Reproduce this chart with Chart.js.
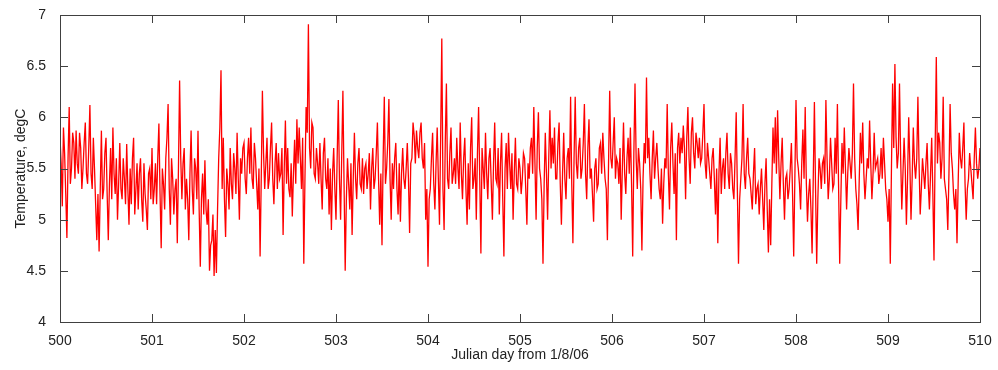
<!DOCTYPE html>
<html>
<head>
<meta charset="utf-8">
<script src="https://cdn.jsdelivr.net/npm/chart.js@4.4.0/dist/chart.umd.min.js"></script>
<style>
  html, body { margin: 0; padding: 0; background: #fff; }
  #caja { width: 998px; height: 370px; }
</style>
</head>
<body>
<div id="caja"><canvas id="grafico" width="998" height="370"></canvas></div>
<script>
// muestreo: dia juliano inicial y paso entre lecturas (dias)
var diaInicio = 500;
var pasoDia = 0.0125;

var temperatura = [
  // 500.000 - 501.225
  5.80, 5.13, 5.65, 4.82, 6.10, 5.50, 5.75, 5.87, 5.45, 5.70,
  5.50, 5.95, 5.35, 6.12, 5.30, 5.50, 4.80, 4.69, 5.87, 5.30,
  5.80, 4.80, 5.70, 5.90, 5.25, 5.00, 5.75, 5.20, 5.40, 5.74,
  4.95, 5.15, 5.80, 5.30, 5.10, 5.60, 4.98, 5.25, 4.90, 5.50,
  5.70, 5.30, 5.15, 5.94, 4.72, 5.35, 5.60, 6.13, 4.95, 5.40,
  // 501.250 - 502.475
  5.30, 4.77, 6.36, 5.20, 5.70, 5.40, 4.80, 5.87, 5.05, 5.50,
  5.87, 4.54, 5.45, 5.58, 4.95, 4.50, 4.80, 4.45, 4.48, 5.60,
  6.46, 5.80, 4.83, 5.35, 5.70, 5.20, 5.50, 5.85, 5.00, 5.45,
  5.75, 5.25, 5.80, 5.90, 5.30, 5.60, 5.10, 4.64, 6.26, 5.30,
  5.80, 5.40, 5.95, 5.15, 5.75, 5.65, 5.45, 4.85, 5.97, 5.70,
  // 502.500 - 503.725
  5.22, 5.03, 5.78, 5.98, 5.90, 5.30, 4.57, 6.10, 6.91, 5.50,
  5.90, 5.40, 5.55, 5.75, 5.10, 5.80, 5.30, 5.05, 4.90, 5.70,
  5.00, 6.17, 5.00, 6.26, 4.50, 5.60, 5.10, 4.85, 5.85, 5.20,
  5.70, 5.30, 5.25, 5.55, 5.45, 5.10, 5.70, 5.40, 5.95, 4.95,
  4.75, 6.20, 5.50, 6.18, 5.00, 5.30, 5.75, 5.05, 4.98, 5.70,
  // 503.750 - 504.975
  5.30, 5.75, 4.87, 5.60, 5.82, 5.87, 5.60, 5.95, 5.50, 5.00,
  4.54, 5.30, 5.85, 5.10, 5.90, 4.95, 6.77, 4.90, 6.33, 5.30,
  5.90, 5.45, 5.35, 5.50, 5.95, 5.20, 5.80, 4.95, 5.10, 6.00,
  5.40, 5.00, 6.10, 4.67, 5.50, 5.85, 5.20, 5.70, 5.00, 5.95,
  5.35, 5.05, 5.85, 4.64, 5.75, 5.85, 5.30, 5.00, 5.80, 5.30,
  // 505.000 - 506.225
  5.50, 5.40, 5.60, 4.95, 5.40, 5.80, 6.10, 5.00, 6.05, 5.40,
  4.57, 5.85, 5.00, 6.07, 5.80, 5.90, 5.40, 5.95, 4.95, 5.85,
  5.20, 5.70, 6.20, 4.77, 6.20, 5.40, 5.80, 5.50, 6.13, 5.20,
  5.98, 5.50, 4.98, 5.60, 5.35, 5.75, 5.85, 5.40, 4.80, 6.26,
  5.50, 6.00, 5.60, 5.35, 5.00, 5.95, 5.25, 5.80, 5.90, 4.64,
  // 506.250 - 507.475
  6.33, 5.30, 5.55, 4.70, 5.75, 6.39, 5.80, 5.20, 5.87, 5.60,
  5.50, 5.20, 4.96, 5.60, 6.13, 5.10, 5.95, 5.25, 4.80, 5.85,
  5.80, 5.92, 5.20, 6.10, 5.35, 6.00, 5.50, 5.75, 5.80, 5.60,
  6.13, 5.40, 5.60, 5.30, 5.70, 5.05, 4.77, 5.80, 5.50, 5.30,
  5.85, 5.30, 5.55, 5.20, 6.05, 4.57, 5.40, 6.13, 5.30, 5.80,
  // 507.500 - 508.725
  5.40, 5.10, 5.70, 5.30, 5.05, 5.50, 4.90, 5.60, 4.68, 4.75,
  5.90, 6.00, 6.07, 5.20, 5.80, 5.00, 5.45, 5.30, 5.75, 4.64,
  6.17, 5.50, 5.10, 5.88, 6.10, 4.98, 5.40, 4.67, 6.15, 4.57,
  5.60, 5.30, 5.60, 6.17, 5.20, 5.80, 5.30, 5.80, 6.13, 4.57,
  5.75, 5.90, 5.10, 5.70, 5.40, 6.33, 5.30, 4.90, 5.85, 5.95,
  // 508.750 - 510.000
  5.20, 5.60, 5.97, 5.20, 5.85, 5.55, 5.35, 5.70, 5.80, 5.30,
  4.98, 4.57, 6.33, 6.52, 5.50, 6.33, 5.10, 5.80, 4.95, 6.00,
  5.00, 5.90, 5.40, 6.20, 5.05, 5.60, 5.30, 5.75, 5.10, 5.80,
  4.60, 6.59, 5.85, 5.40, 6.20, 5.30, 4.90, 6.13, 5.50, 5.10,
  4.77, 5.85, 5.50, 5.95, 5.00, 5.40, 5.50, 5.20, 5.90, 5.40,
  5.70
];

// lecturas intermedias (entre cada par de la lista anterior), banda densa del grafico
var temperaturaMedia = [
  // 500.0125 - 501.2375
  5.55, 5.90, 5.25, 5.60, 5.35, 5.85, 5.40, 5.55, 5.85, 5.30,
  5.75, 5.45, 5.70, 5.45, 5.80, 5.15, 5.25, 5.30, 5.20, 5.65,
  5.25, 5.35, 5.20, 5.45, 5.60, 5.35, 5.30, 5.60, 5.15, 5.30,
  5.50, 5.60, 5.05, 5.55, 5.45, 5.20, 5.55, 5.10, 5.45, 5.20,
  5.15, 5.55, 5.60, 5.25, 5.50, 5.10, 5.80, 5.30, 5.60, 5.05,
  // 501.2625 - 502.4875
  5.40, 5.50, 5.60, 5.55, 5.10, 5.20, 5.45, 5.30, 5.60, 5.20,
  5.10, 5.20, 5.05, 5.10, 5.20, 4.75, 5.05, 4.90, 5.10, 5.90,
  5.30, 5.20, 5.50, 5.10, 5.35, 5.65, 5.25, 5.40, 5.60, 5.70,
  5.40, 5.60, 5.45, 5.40, 5.75, 5.35, 5.50, 5.40, 5.65, 5.55,
  5.30, 5.70, 5.40, 5.55, 5.30, 5.40, 5.70, 5.50, 5.35, 5.30,
  // 502.5125 - 503.7375
  5.55, 5.45, 5.35, 5.55, 5.60, 5.80, 5.40, 5.85, 5.70, 5.95,
  5.45, 5.70, 5.35, 5.40, 5.65, 5.40, 5.60, 5.50, 5.45, 5.30,
  5.60, 5.40, 5.65, 5.35, 5.20, 5.35, 5.55, 5.40, 5.40, 5.55,
  5.35, 5.60, 5.50, 5.30, 5.65, 5.50, 5.30, 5.65, 5.40, 5.45,
  5.60, 5.35, 5.75, 5.40, 5.55, 5.60, 5.30, 5.55, 5.45, 5.40,
  // 503.7625 - 504.9875
  5.50, 5.40, 5.55, 5.95, 5.55, 5.70, 5.85, 5.60, 5.75, 5.30,
  5.20, 5.60, 5.35, 5.55, 5.40, 5.80, 5.30, 5.75, 5.40, 5.65,
  5.35, 5.60, 5.80, 5.30, 5.45, 5.60, 5.30, 5.55, 5.70, 5.30,
  5.60, 5.65, 5.40, 5.70, 5.30, 5.45, 5.60, 5.35, 5.55, 5.40,
  5.70, 5.55, 5.20, 5.50, 5.30, 5.55, 5.65, 5.45, 5.35, 5.60,
  // 505.0125 - 506.2375
  5.25, 5.65, 5.30, 5.55, 5.70, 5.45, 5.55, 5.70, 5.50, 5.20,
  5.35, 5.45, 5.60, 5.50, 5.55, 5.40, 5.75, 5.35, 5.45, 5.40,
  5.60, 5.40, 5.35, 5.60, 5.55, 5.70, 5.40, 5.75, 5.45, 5.70,
  5.40, 5.25, 5.50, 5.30, 5.70, 5.45, 5.60, 5.30, 5.55, 5.60,
  5.75, 5.40, 5.55, 5.70, 5.50, 5.45, 5.60, 5.45, 5.35, 5.65,
  // 506.2625 - 507.4875
  5.60, 5.70, 5.30, 5.40, 5.55, 5.60, 5.45, 5.60, 5.40, 5.75,
  5.30, 5.50, 5.35, 5.50, 5.45, 5.70, 5.55, 5.65, 5.70, 5.55,
  5.65, 5.70, 5.80, 5.60, 5.85, 5.65, 5.85, 5.60, 5.55, 5.85,
  5.55, 5.75, 5.45, 5.60, 5.40, 5.50, 5.45, 5.25, 5.60, 5.65,
  5.45, 5.65, 5.30, 5.60, 5.30, 5.20, 5.60, 5.45, 5.60, 5.45,
  // 507.5125 - 508.7375
  5.25, 5.45, 5.15, 5.35, 5.30, 5.20, 5.35, 5.10, 5.20, 5.35,
  5.55, 5.45, 5.60, 5.55, 5.35, 5.40, 5.20, 5.50, 5.25, 5.40,
  5.60, 5.35, 5.55, 5.40, 5.35, 5.25, 5.10, 5.40, 5.30, 5.20,
  5.50, 5.55, 5.35, 5.60, 5.40, 5.55, 5.35, 5.45, 5.35, 5.20,
  5.45, 5.50, 5.45, 5.55, 5.65, 5.60, 5.15, 5.40, 5.55, 5.45,
  // 508.7625 - 509.9875
  5.40, 5.50, 5.55, 5.45, 5.50, 5.60, 5.45, 5.40, 5.55, 5.20,
  5.30, 5.50, 5.70, 5.80, 5.65, 5.60, 5.45, 5.50, 5.40, 5.55,
  5.40, 5.55, 5.60, 5.55, 5.30, 5.45, 5.55, 5.35, 5.45, 5.25,
  5.70, 5.55, 5.75, 5.60, 5.40, 5.20, 5.45, 5.65, 5.25, 5.30,
  5.35, 5.60, 5.70, 5.35, 5.30, 5.65, 5.35, 5.60, 5.55, 5.50
];

var ticksX = [500, 501, 502, 503, 504, 505, 506, 507, 508, 509, 510];
var ticksY = [4, 4.5, 5, 5.5, 6, 6.5, 7];

// intercalar lecturas principales e intermedias
var puntos = [];
temperatura.forEach(function (t, i) {
  puntos.push({ x: diaInicio + 2 * i * pasoDia, y: t });
  if (i < temperaturaMedia.length) {
    puntos.push({ x: diaInicio + (2 * i + 1) * pasoDia, y: temperaturaMedia[i] });
  }
});

// marco completo y marcas hacia dentro (estilo matlab)
var marco = {
  id: 'marco',
  afterDatasetsDraw: function (chart) {
    var ctx = chart.ctx, a = chart.chartArea;
    var sx = chart.scales.x, sy = chart.scales.y;
    var largo = 8;
    ctx.save();
    ctx.strokeStyle = '#404040';
    ctx.lineWidth = 1;
    ctx.strokeRect(Math.round(a.left) + 0.5, Math.round(a.top) + 0.5,
      Math.round(a.right - a.left), Math.round(a.bottom - a.top));
    ctx.beginPath();
    ticksX.forEach(function (v) {
      var px = Math.round(sx.getPixelForValue(v)) + 0.5;
      ctx.moveTo(px, a.bottom); ctx.lineTo(px, a.bottom - largo);
      ctx.moveTo(px, a.top); ctx.lineTo(px, a.top + largo);
    });
    ticksY.forEach(function (v) {
      var py = Math.round(sy.getPixelForValue(v)) + 0.5;
      ctx.moveTo(a.left, py); ctx.lineTo(a.left + largo, py);
      ctx.moveTo(a.right, py); ctx.lineTo(a.right - largo, py);
    });
    ctx.stroke();
    ctx.restore();
  }
};

var ctx = document.getElementById('grafico').getContext('2d');
var grafico = new Chart(ctx, {
  type: 'line',
  data: {
    datasets: [{
      label: 'Temperatura',
      data: puntos,
      borderColor: 'rgb(255, 0, 0)',
      borderWidth: 1.3,
      pointRadius: 0,
      tension: 0,
      fill: false
    }]
  },
  options: {
    responsive: false,
    animation: false,
    devicePixelRatio: 1,
    layout: { padding: { top: 15, right: 18, left: 0, bottom: 0 } },
    plugins: { legend: { display: false }, tooltip: { enabled: false } },
    scales: {
      x: {
        type: 'linear',
        min: 500, max: 510,
        afterBuildTicks: function (s) { s.ticks = ticksX.map(function (v) { return { value: v }; }); },
        afterFit: function (s) { s.height = 48; },
        grid: { display: false },
        border: { display: false },
        ticks: { color: '#222', font: { family: 'Liberation Sans', size: 14 }, padding: 3, maxRotation: 0,
          callback: function (v) { return String(v); } },
        title: { display: true, text: 'Julian day from 1/8/06', color: '#222',
          font: { family: 'Liberation Sans', size: 14 }, padding: { top: 0, bottom: 6 } }
      },
      y: {
        min: 4, max: 7,
        afterBuildTicks: function (s) { s.ticks = ticksY.map(function (v) { return { value: v }; }); },
        afterFit: function (s) { s.width = 60; },
        grid: { display: false },
        border: { display: false },
        ticks: { color: '#222', font: { family: 'Liberation Sans', size: 14 }, padding: 6,
          callback: function (v) { return String(v); } },
        title: { display: true, text: 'Temperature, degC', color: '#222',
          font: { family: 'Liberation Sans', size: 14 }, padding: { top: 13, bottom: 0 } }
      }
    }
  },
  plugins: [marco]
});
</script>
</body>
</html>
